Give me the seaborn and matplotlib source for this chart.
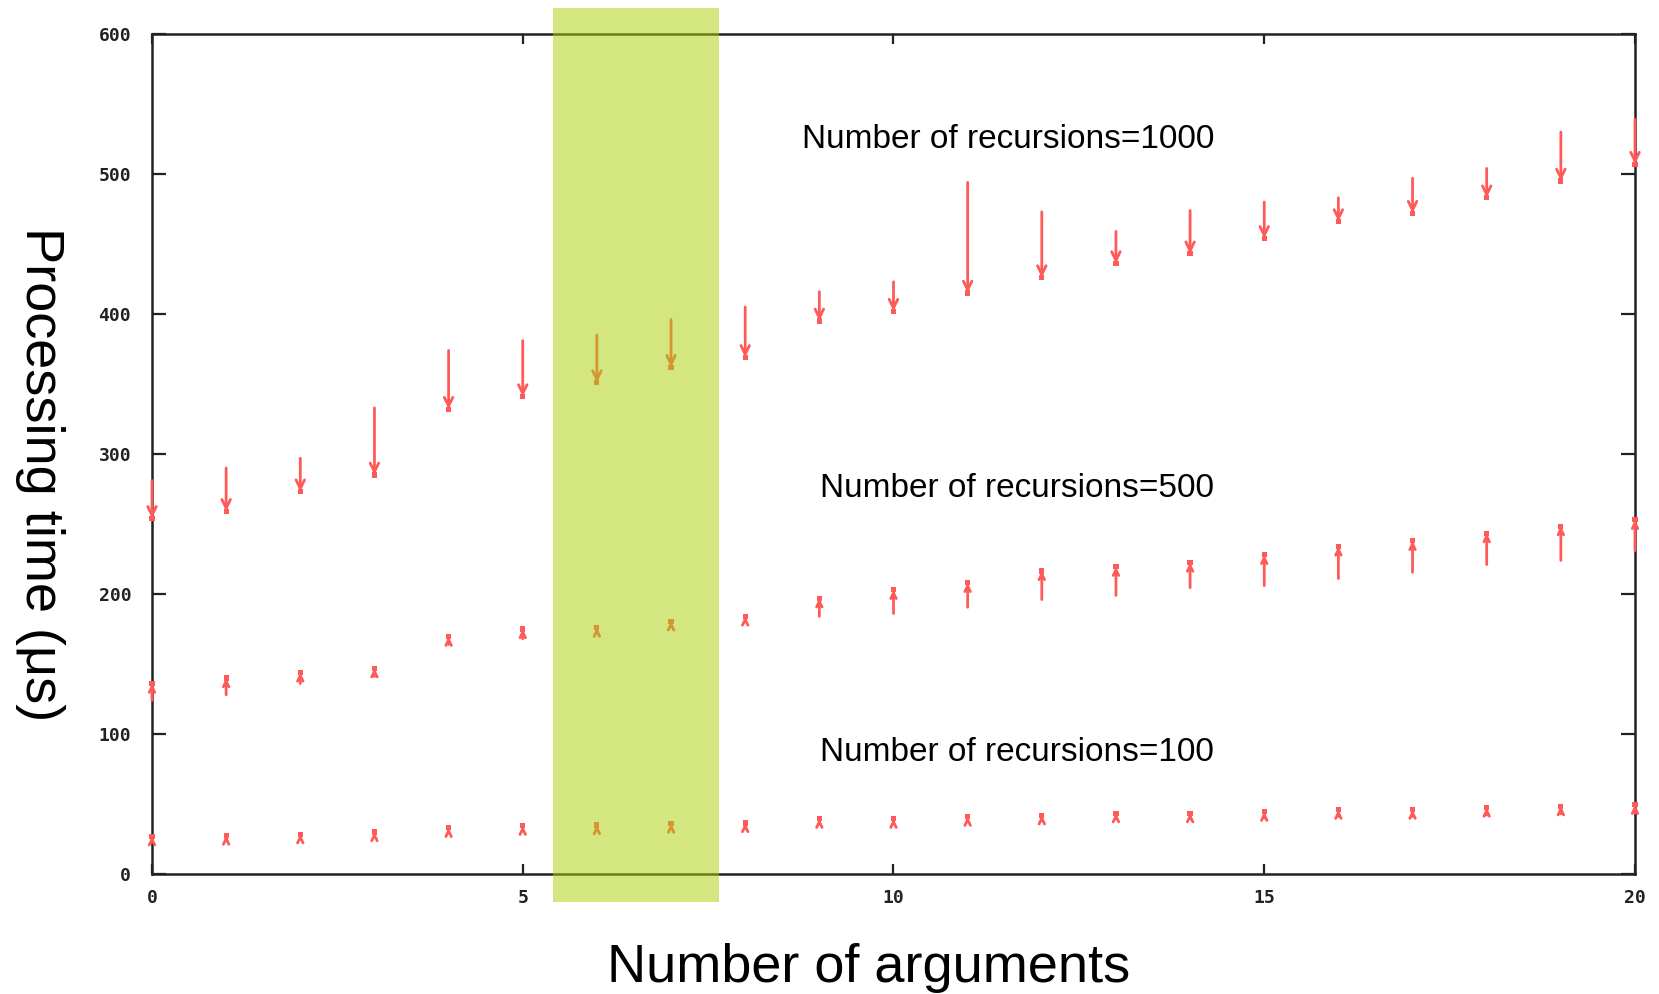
import numpy as np
import pandas as pd
import matplotlib
matplotlib.use("Agg")
import matplotlib.pyplot as plt
import seaborn as sns

# ---------------- data ----------------
n_args = list(range(21))

# recursions = 1000 : arrows pointing down (tail above, tip = value)
rec1000_tail = [281, 290, 297, 333, 374, 381, 385, 396, 405, 416, 423,
                494, 473, 459, 474, 480, 483, 497, 504, 530, 539]
rec1000_tip = [254, 259, 273, 285, 332, 341, 351, 362, 369, 395, 402,
               415, 426, 436, 443, 454, 466, 472, 483, 495, 507]

# recursions = 500 : arrows pointing up (tail below, tip = value)
rec500_tail = [124, 128, 136, 141, 164, 168, 174, 178.5, 182, 184, 186,
               190.5, 196, 199, 204.5, 206, 211, 215.5, 221, 224, 231]
rec500_tip = [136, 140, 144, 147, 169.5, 175, 176, 180.5, 184, 197, 203,
              208, 216.5, 219.5, 222.5, 228, 234, 238, 243.5, 248.5, 253]

# recursions = 100 : short arrows pointing up
rec100_tail = [24, 25, 26, 28, 31.5, 33, 33, 34.5, 33.5, 36.5, 36,
               37.5, 38.5, 39.5, 39.5, 40, 41, 41, 42, 43, 43.5]
rec100_tip = [27, 27.5, 28.5, 30, 33, 34.5, 35, 36, 36.5, 39.5, 39.5,
              41, 42, 43.5, 43.5, 44.5, 46, 46, 47.5, 48.5, 49.5]

series_labels = ["Number of recursions=1000",
                 "Number of recursions=500",
                 "Number of recursions=100"]
label_pos = [(0.5775, 0.875), (0.583, 0.4595), (0.583, 0.1445)]

x_ticks = [0, 5, 10, 15, 20]
y_ticks = [0, 100, 200, 300, 400, 500, 600]
highlight = (5.41, 7.65)

# ---------------- style ----------------
sns.set_theme(style="white")
plt.rcParams['font.family'] = ['Liberation Sans', 'DejaVu Sans']

RED = "#ff5a5a"

fig = plt.figure(figsize=(16.59, 9.94), dpi=100)
ax = fig.add_axes([0.09162, 0.12072, 0.89391, 0.84507])

df = pd.DataFrame({
    "x": n_args * 3,
    "tip": rec1000_tip + rec500_tip + rec100_tip,
    "tail": rec1000_tail + rec500_tail + rec100_tail,
    "series": ["1000"] * 21 + ["500"] * 21 + ["100"] * 21,
})

# tip markers
sns.scatterplot(data=df, x="x", y="tip", ax=ax, marker="s", s=14,
                color=RED, edgecolor="none", zorder=4, clip_on=False, legend=False)

for _, r in df.iterrows():
    ms = 14 if r["series"] == "1000" else 9
    ax.annotate("", xy=(r["x"], r["tip"]), xytext=(r["x"], r["tail"]),
                xycoords="data", textcoords="data",
                arrowprops=dict(arrowstyle="->,head_length=0.45,head_width=0.22",
                                color=RED, lw=2, shrinkA=0, shrinkB=0,
                                mutation_scale=ms),
                annotation_clip=False, zorder=4)

ax.set_xlim(0, 20)
ax.set_ylim(0, 600)
ax.set_xticks(x_ticks)
ax.set_yticks(y_ticks)
ax.set_xticklabels([str(v) for v in x_ticks])
ax.set_yticklabels([str(v) for v in y_ticks])

for lab in ax.get_xticklabels() + ax.get_yticklabels():
    lab.set_family(['DejaVu Sans Mono'])
    lab.set_fontweight('bold')
    lab.set_fontsize(13)
    lab.set_color('#222222')

ax.tick_params(axis='y', which='both', direction='in', left=True, right=True,
               length=10, width=1.6, color='#222222', pad=15)
ax.tick_params(axis='x', which='both', direction='in', bottom=True, top=True,
               length=7, width=1.6, color='#222222', pad=11)

for sp in ax.spines.values():
    sp.set_visible(True)
    sp.set_color('#222222')
    sp.set_linewidth(1.8)

ax.set_xlabel("Number of arguments", fontsize=39, color='black')
ax.xaxis.set_label_coords(0.483, -0.112)
ax.xaxis.label.set_va('center')
ax.set_ylabel("Processing time (μs)", fontsize=39, color='black', rotation=-90)
ax.yaxis.set_label_coords(-0.0755, 0.4765)
ax.yaxis.label.set_va('center')
ax.yaxis.label.set_ha('center')

for txt, (xx, yy) in zip(series_labels, label_pos):
    ax.text(xx, yy, txt, transform=ax.transAxes, fontsize=24,
            ha='center', va='center', color='black')

# highlight band (semi-transparent overlay on top)
ax.axvspan(highlight[0], highlight[1], ymin=-0.0333, ymax=1.0304,
           color=(173/255, 207/255, 11/255), alpha=0.52, lw=0,
           clip_on=False, zorder=10)

fig.savefig("out.png", dpi=100)
